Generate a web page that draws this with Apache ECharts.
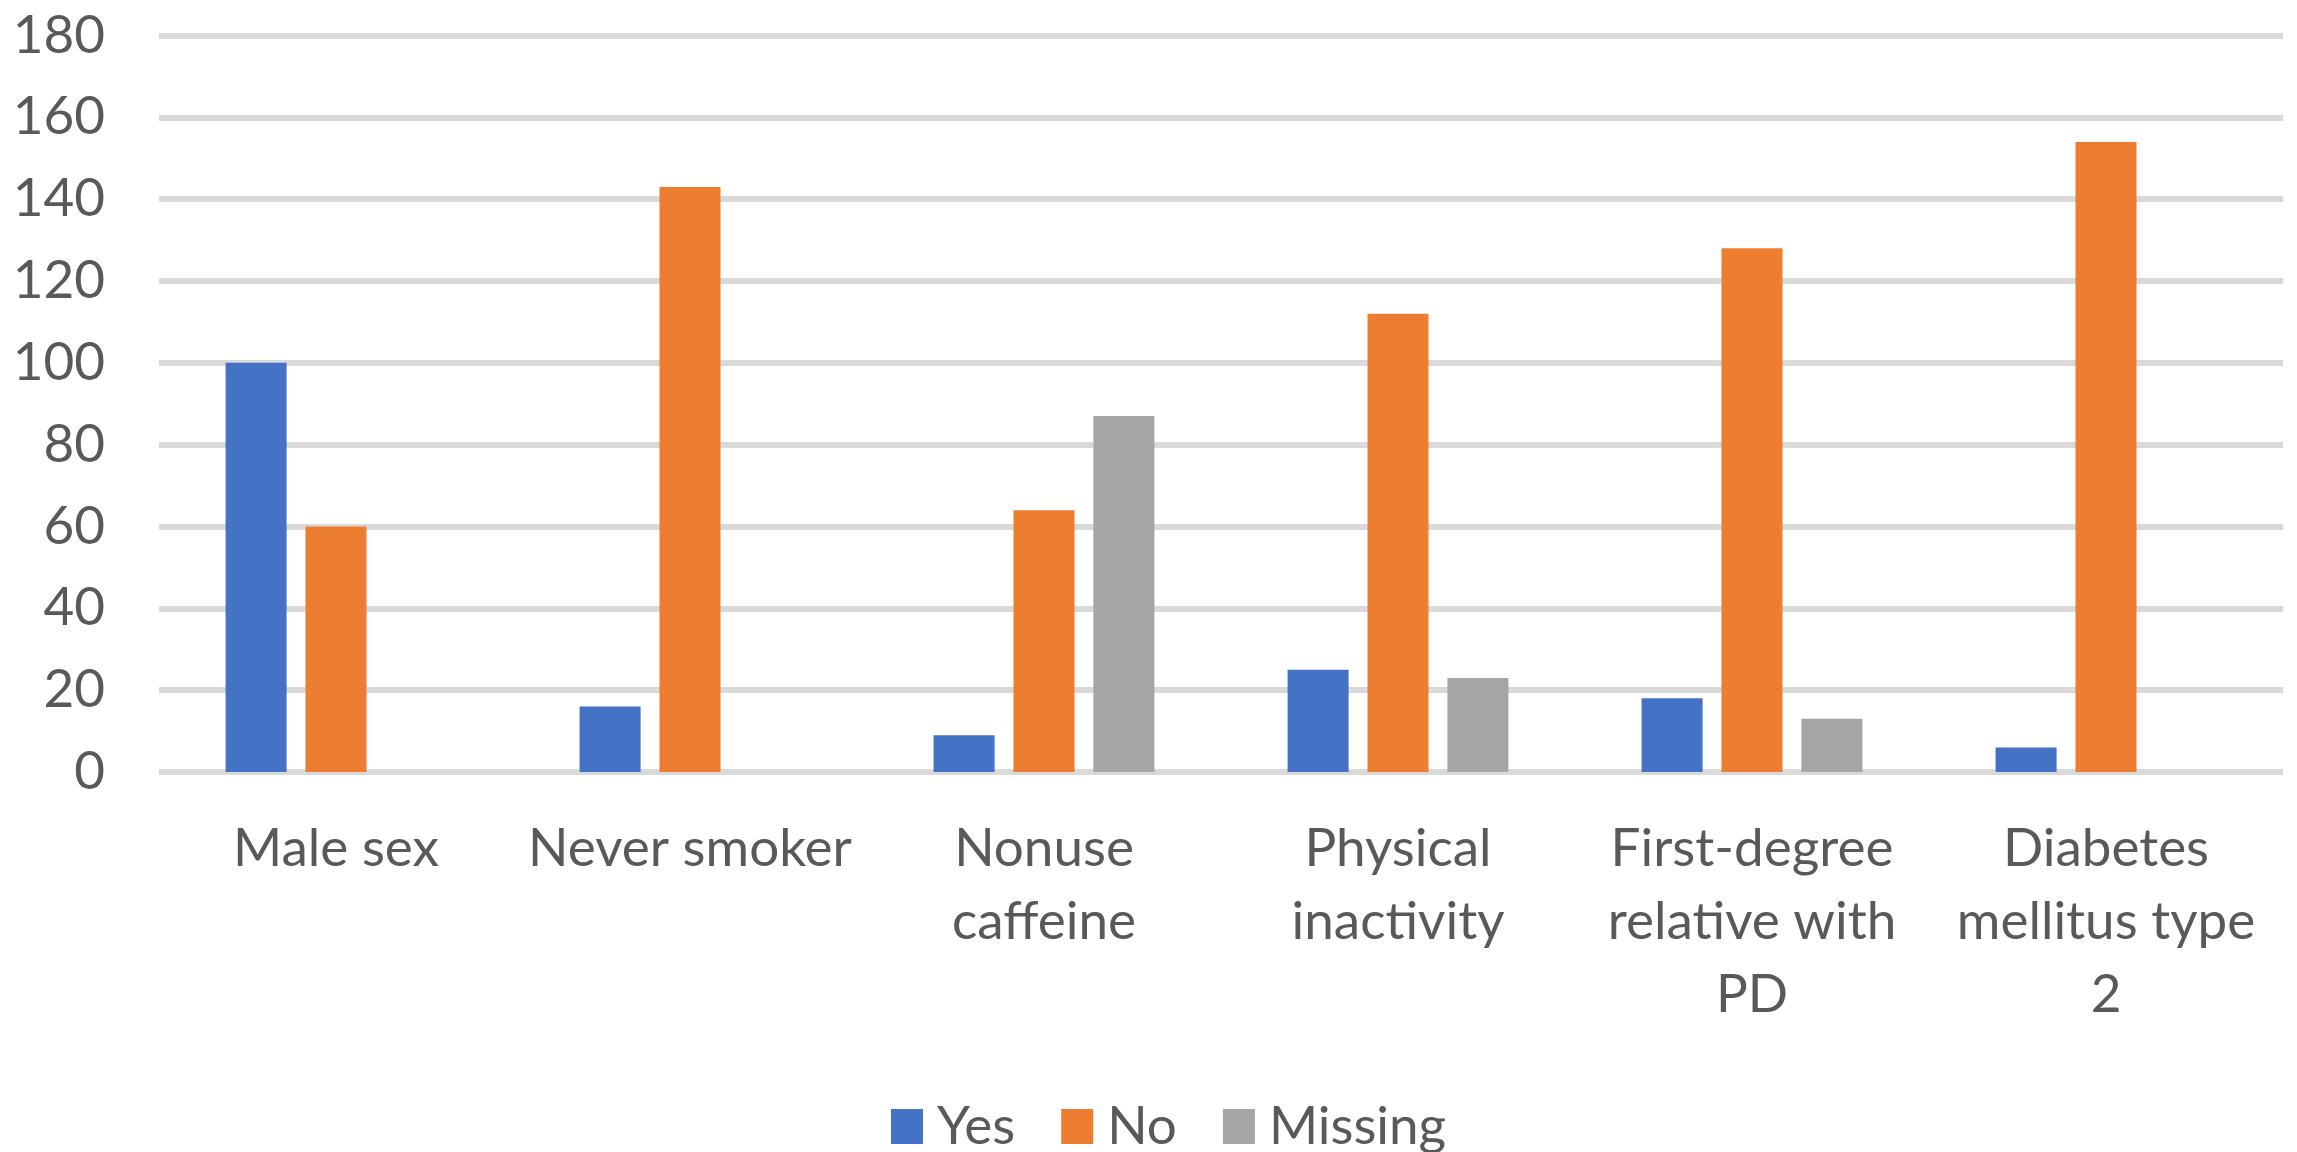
<!DOCTYPE html>
<html>
<head>
<meta charset="utf-8">
<script src="https://cdn.jsdelivr.net/npm/echarts@6/dist/echarts.min.js"></script>
<style>
  html, body { margin: 0; padding: 0; background: #ffffff; }
  #chart { width: 2297px; height: 1152px; }
</style>
</head>
<body>
<div id="chart"></div>
<script>
// Risk factors (line breaks as shown under the axis)
const categories = [
  'Male sex',
  'Never smoker',
  'Nonuse\ncaffeine',
  'Physical\ninactivity',
  'First-degree\nrelative with\nPD',
  'Diabetes\nmellitus type\n2'
];

// Counts per answer
const yesValues = [100, 16, 9, 25, 18, 6];
const noValues = [60, 143, 64, 112, 128, 154];
const missingValues = [0, 0, 87, 23, 13, 0];

// Value axis ticks
const yTicks = [0, 20, 40, 60, 80, 100, 120, 140, 160, 180];

const FONT = 'Lato, "Liberation Sans", sans-serif';
const TEXT_COLOR = '#595959';

const chart = echarts.init(document.getElementById('chart'), null, { renderer: 'canvas' });

function barSeries(name, data, color) {
  return {
    name: name,
    type: 'bar',
    data: data,
    barWidth: 61,
    barGap: '31%',
    itemStyle: { color: color },
    emphasis: { disabled: true }
  };
}

chart.setOption({
  animation: false,
  backgroundColor: '#ffffff',
  textStyle: { fontFamily: FONT },
  grid: { left: 159, right: 14, top: 35.5, bottom: 380, containLabel: false },
  legend: {
    data: ['Yes', 'No', 'Missing'],
    left: 891,
    top: 1100,
    padding: 0,
    itemWidth: 32,
    itemHeight: 35,
    itemGap: 46,
    icon: 'rect',
    textStyle: {
      fontFamily: FONT,
      fontSize: 53,
      color: TEXT_COLOR,
      padding: [0, 0, 0, 9]
    }
  },
  xAxis: {
    type: 'category',
    data: categories,
    axisLine: { show: false },
    axisTick: { show: false },
    axisLabel: {
      interval: 0,
      margin: 40,
      fontFamily: FONT,
      fontSize: 53,
      lineHeight: 73,
      color: TEXT_COLOR,
      align: 'center'
    },
    splitLine: { show: false }
  },
  yAxis: {
    type: 'value',
    min: yTicks[0],
    max: yTicks[yTicks.length - 1],
    interval: yTicks[1] - yTicks[0],
    axisLine: { show: false },
    axisTick: { show: false },
    axisLabel: {
      margin: 54,
      fontFamily: FONT,
      fontSize: 53,
      color: TEXT_COLOR
    },
    splitLine: { show: true, lineStyle: { color: '#d9d9d9', width: 6 } }
  },
  series: [
    barSeries('Yes', yesValues, '#4472c4'),
    barSeries('No', noValues, '#ed7d31'),
    barSeries('Missing', missingValues, '#a5a5a5')
  ]
});
</script>
</body>
</html>
